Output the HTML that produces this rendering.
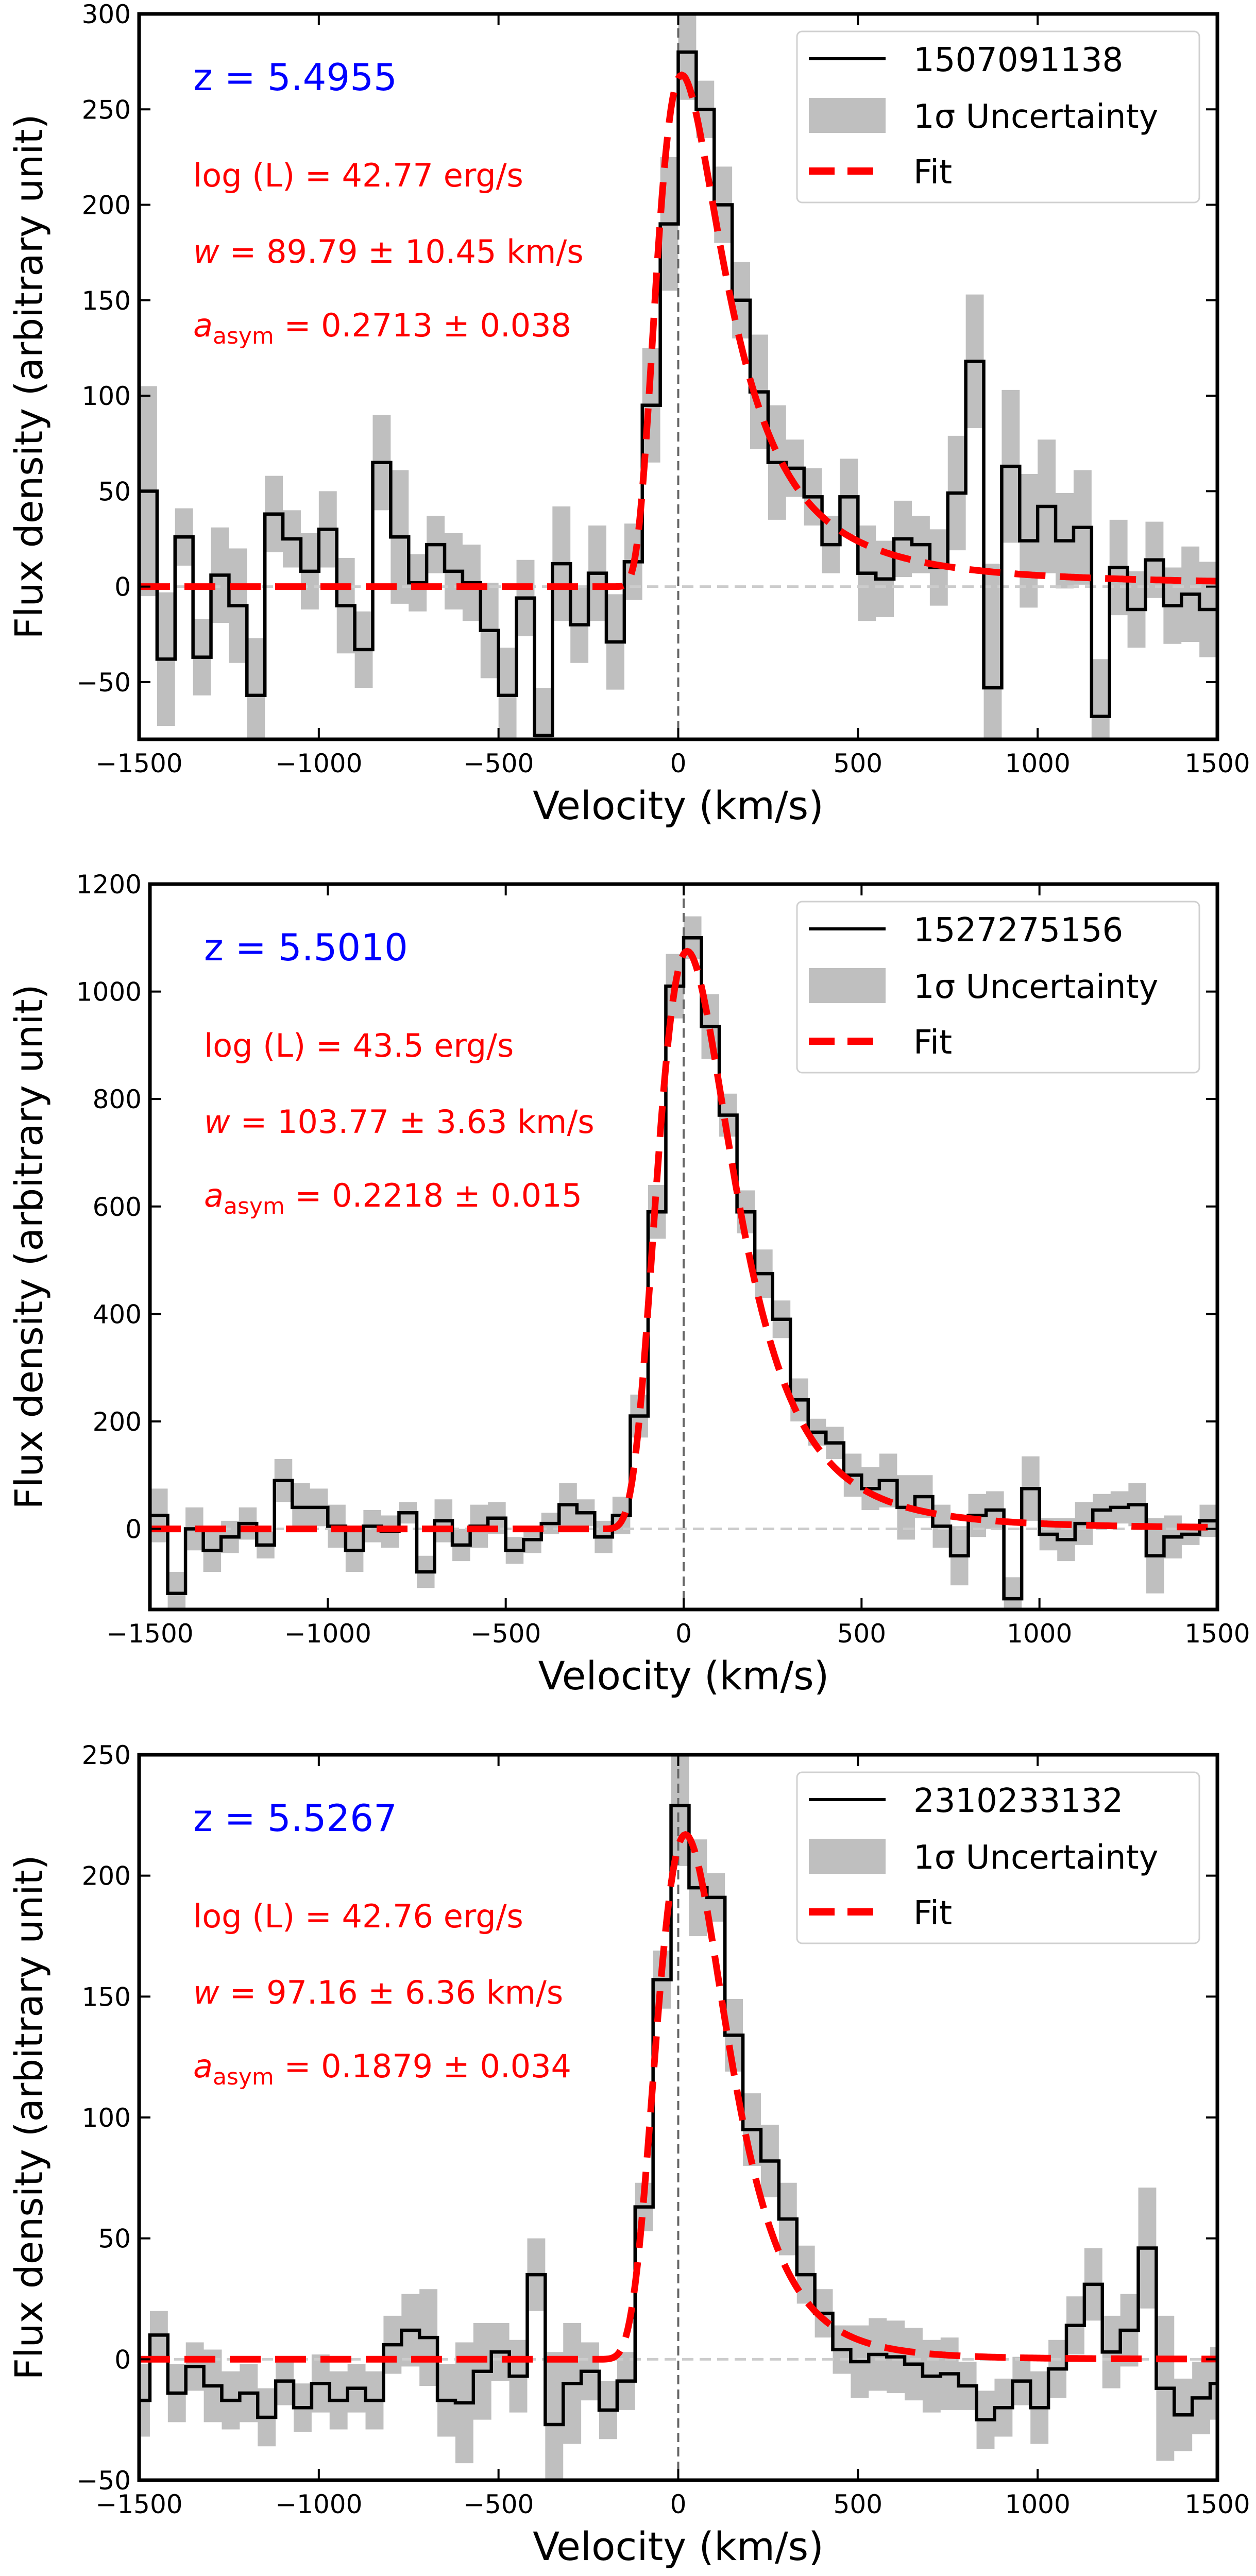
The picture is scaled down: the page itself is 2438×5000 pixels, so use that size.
<!DOCTYPE html>
<html><head><meta charset="utf-8"><style>
html,body{margin:0;padding:0;background:#fff;}
svg{display:block;}
</style></head><body>
<svg id="fig" xmlns="http://www.w3.org/2000/svg" width="2438" height="5000" viewBox="0 0 2438 5000"></svg>
<script>
// ---------- data ----------
const xTicks = [-1500,-1000,-500,0,500,1000,1500];
const p1Values = [50,-38,26,-37,6,-10,-57,38,25,8,30,-10,-33,65,26,2,22,8,2,-23,-57,-6,-78,12,-20,7,-29,13,95,190,280,250,200,150,102,65,62,47,22,47,7,4,25,22,10,49,118,-53,63,24,42,24,31,-68,10,-12,14,-10,-4,-12];
const p1Errors = [55,35,15,20,25,30,30,20,15,20,20,25,20,25,35,15,15,20,20,25,25,20,25,30,20,25,25,20,30,35,25,15,20,20,30,30,15,15,15,20,25,20,20,15,20,30,35,65,40,35,35,25,30,30,25,20,20,20,25,25];
const p1YTicks = [-50,0,50,100,150,200,250,300];
const p1Fit = {amp:268, v0:10, w:89.79, a:0.2713};
const p2Values = [25,-120,0,-40,-15,10,-30,90,40,40,5,-40,5,-5,30,-80,15,-30,5,20,-40,-20,10,45,30,-15,25,210,590,1010,1100,935,770,590,475,390,240,180,160,100,75,90,40,60,5,-50,25,35,-130,75,-10,-20,10,35,40,45,-50,-15,-10,15];
const p2Errors = [50,40,40,40,30,30,25,40,45,35,40,40,30,30,20,30,40,30,40,30,25,25,20,40,25,30,35,40,50,60,40,60,40,40,45,35,40,25,30,40,40,50,60,40,40,55,40,35,40,60,30,40,40,30,30,40,70,40,20,30];
const p2YTicks = [0,200,400,600,800,1000,1200];
const p2Fit = {amp:1075, v0:10, w:103.77, a:0.2218};
const p3Values = [-17,10,-14,-3,-11,-17,-14,-24,-9,-20,-10,-17,-12,-17,6,12,9,-17,-18,-5,3,-7,35,-27,-10,-5,-21,-9,63,157,229,195,191,134,95,82,58,35,19,4,-1,2,1,-2,-7,-6,-11,-25,-20,-9,-20,-4,14,31,3,12,46,-12,-23,-16,-10];
const p3Errors = [15,10,12,10,15,12,12,12,10,10,12,12,10,12,12,15,20,15,25,20,12,15,15,30,25,12,12,12,10,12,25,20,10,15,15,15,15,12,10,10,15,15,15,15,15,15,10,12,12,10,15,12,12,15,15,15,25,30,15,15,15];
const p3YTicks = [-50,0,50,100,150,200,250];
const p3Fit = {amp:217, v0:20, w:97.16, a:0.1879};

const panels = [
 {id:'p1', left:270, top:27, yMin:-80, yMax:300, binStart:-1500, binW:50, values:p1Values, errors:p1Errors, yTicks:p1YTicks, fit:p1Fit,
  label:'1507091138', z:'z = 5.4955', logL:'log (L) = 42.77 erg/s', w:'89.79 ± 10.45 km/s', asym:'0.2713 ± 0.038'},
 {id:'p2', left:291, top:1716, yMin:-150, yMax:1200, binStart:-1500, binW:50, values:p2Values, errors:p2Errors, yTicks:p2YTicks, fit:p2Fit,
  label:'1527275156', z:'z = 5.5010', logL:'log (L) = 43.5 erg/s', w:'103.77 ± 3.63 km/s', asym:'0.2218 ± 0.015'},
 {id:'p3', left:270, top:3406, yMin:-50, yMax:250, binStart:-1520, binW:50, values:p3Values, errors:p3Errors, yTicks:p3YTicks, fit:p3Fit,
  label:'2310233132', z:'z = 5.5267', logL:'log (L) = 42.76 erg/s', w:'97.16 ± 6.36 km/s', asym:'0.1879 ± 0.034'}
];
const RIGHT = 2363, H = 1408;
const NS='http://www.w3.org/2000/svg';
const svg=document.getElementById('fig');
function mk(tag, attrs, parent){const e=document.createElementNS(NS,tag);for(const k in attrs)e.setAttribute(k,attrs[k]);(parent||svg).appendChild(e);return e;}

panels.forEach((P,pi)=>{
  const W = RIGHT-P.left;
  const xs = v => P.left + (v+1500)/3000*W;
  const ys = v => P.top + (P.yMax-v)/(P.yMax-P.yMin)*H;
  const g = mk('g',{});
  
  
  const cp = mk('clipPath',{id:'clip'+pi},g);
  mk('rect',{x:P.left,y:P.top,width:W,height:H},cp);
  const plot = mk('g',{'clip-path':'url(#clip'+pi+')'},g);

  // uncertainty band
  let up='', lo='';
  P.values.forEach((v,i)=>{
    const e = P.errors[i]!==undefined?P.errors[i]:15;
    const x0=xs(P.binStart+i*P.binW), x1=xs(P.binStart+(i+1)*P.binW);
    up += (i===0?'M':'L')+x0+','+ys(v+e)+' L'+x1+','+ys(v+e)+' ';
    lo = 'L'+x1+','+ys(v-e)+' L'+x0+','+ys(v-e)+' ' + lo;
  });
  const band = mk('path',{d:up+lo+'Z',fill:'#bfbfbf',stroke:'none'},plot);
  
  

  // zero lines
  const hz = mk('line',{x1:P.left,x2:RIGHT,y1:ys(0),y2:ys(0),stroke:'#cccccc','stroke-width':5,'stroke-dasharray':'22,12'},plot);
  
  
  const vz = mk('line',{x1:xs(0),x2:xs(0),y1:P.top,y2:P.top+H,stroke:'#666666','stroke-width':4,'stroke-dasharray':'18,10'},plot);
  
  

  // histogram
  let d='';
  P.values.forEach((v,i)=>{
    const x0=xs(P.binStart+i*P.binW), x1=xs(P.binStart+(i+1)*P.binW);
    d += (i===0?'M':'L')+x0+','+ys(v)+' L'+x1+','+ys(v)+' ';
  });
  const hist = mk('path',{d:d,fill:'none',stroke:'#000','stroke-width':6.5,'stroke-linejoin':'miter'},plot);
  
  

  // fit
  let fd='';
  for(let v=-1500; v<=1500; v+=5){
    const s = P.fit.a*(v-P.fit.v0)+P.fit.w;
    const f = s>1 ? P.fit.amp*Math.exp(-(v-P.fit.v0)*(v-P.fit.v0)/(2*s*s)) : 0;
    fd += (v===-1500?'M':'L')+xs(v).toFixed(1)+','+ys(f).toFixed(1)+' ';
  }
  const fit = mk('path',{d:fd,fill:'none',stroke:'#ff0000','stroke-width':13,'stroke-dasharray':'60,28'},plot);
  
  

  // axes frame
  const fr = mk('rect',{x:P.left,y:P.top,width:W,height:H,fill:'none',stroke:'#000','stroke-width':7},g);
  
  

  // ticks
  xTicks.forEach(t=>{
    const x=xs(t);
    mk('line',{x1:x,x2:x,y1:P.top+H,y2:P.top+H-22,stroke:'#000','stroke-width':4},g);
    mk('line',{x1:x,x2:x,y1:P.top,y2:P.top+22,stroke:'#000','stroke-width':4},g);
    const tx = mk('text',{x:x,y:P.top+H+64,'text-anchor':'middle','font-family':'DejaVu Sans, sans-serif','font-size':50,fill:'#000'},g);
    tx.textContent = t<0?'\u2212'+(-t):String(t);
    
    
  });
  P.yTicks.forEach(t=>{
    const y=ys(t);
    mk('line',{x1:P.left,x2:P.left+22,y1:y,y2:y,stroke:'#000','stroke-width':4},g);
    mk('line',{x1:RIGHT,x2:RIGHT-22,y1:y,y2:y,stroke:'#000','stroke-width':4},g);
    const ty = mk('text',{x:P.left-16,y:y+18,'text-anchor':'end','font-family':'DejaVu Sans, sans-serif','font-size':50,fill:'#000'},g);
    ty.textContent = t<0?'\u2212'+(-t):String(t);
    
    
  });

  // axis labels
  const xl = mk('text',{x:(P.left+RIGHT)/2,y:P.top+H+155,'text-anchor':'middle','font-family':'DejaVu Sans, sans-serif','font-size':76,fill:'#000'},g);
  xl.textContent='Velocity (km/s)';
  
  
  const yl = mk('text',{x:0,y:0,'text-anchor':'middle','font-family':'DejaVu Sans, sans-serif','font-size':74,fill:'#000',transform:'translate(82,'+(P.top+H/2)+') rotate(-90)'},g);
  yl.textContent='Flux density (arbitrary unit)';
  
  

  // annotations
  const ax = P.left+105;
  const zt = mk('text',{x:ax,y:P.top+148,'font-family':'DejaVu Sans, sans-serif','font-size':72,fill:'#0000ff'},g);
  zt.textContent=P.z;
  
  
  const lt = mk('text',{x:ax,y:P.top+335,'font-family':'DejaVu Sans, sans-serif','font-size':62,fill:'#ff0000'},g);
  lt.textContent=P.logL;
  
  
  const wt = mk('text',{x:ax,y:P.top+483,'font-family':'DejaVu Sans, sans-serif','font-size':62,fill:'#ff0000'},g);
  const wi = mk('tspan',{'font-style':'italic'},wt); wi.textContent='w';
  const wr = mk('tspan',{},wt); wr.textContent=' = '+P.w;
  
  
  const at = mk('text',{x:ax,y:P.top+626,'font-family':'DejaVu Sans, sans-serif','font-size':62,fill:'#ff0000'},g);
  const a1 = mk('tspan',{'font-style':'italic'},at); a1.textContent='a';
  const a2 = mk('tspan',{'font-size':44,dy:14}); at.appendChild(a2); a2.textContent='asym';
  const a3 = mk('tspan',{dy:-14}); at.appendChild(a3); a3.textContent=' = '+P.asym;
  
  

  // legend
  const lg = mk('g',{},g);
  
  
  mk('rect',{x:1547,y:P.top+34,width:781,height:332,rx:10,fill:'#fff','fill-opacity':0.85,stroke:'#d0d0d0','stroke-width':3},lg);
  const rows=[P.top+87,P.top+197,P.top+305];
  const l1 = mk('line',{x1:1570,x2:1719,y1:rows[0],y2:rows[0],stroke:'#000','stroke-width':6},lg);
  
  
  const l2 = mk('rect',{x:1570,y:rows[1]-34,width:149,height:68,fill:'#bfbfbf'},lg);
  
  
  const l3 = mk('line',{x1:1570,x2:1719,y1:rows[2],y2:rows[2],stroke:'#ff0000','stroke-width':14,'stroke-dasharray':'50,25'},lg);
  
  
  const texts=[P.label,'1\u03c3 Uncertainty','Fit'];
  texts.forEach((s,i)=>{
    const t = mk('text',{x:1773,y:rows[i]+24,'font-family':'DejaVu Sans, sans-serif','font-size':64,fill:'#000'},lg);
    t.textContent=s;
    
    
  });
});
</script>
</body></html>
